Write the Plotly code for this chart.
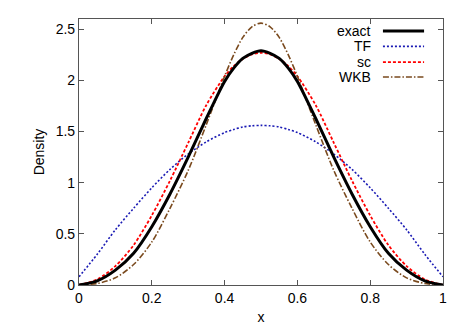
import plotly.graph_objects as go

x_vals = [0.0, 0.05, 0.1, 0.15, 0.2, 0.25, 0.3, 0.35, 0.4, 0.425, 0.45, 0.475, 0.5,
          0.525, 0.55, 0.575, 0.6, 0.65, 0.7, 0.75, 0.8, 0.85, 0.9, 0.95, 1.0]

exact = [0.0, 0.04, 0.145, 0.31, 0.57, 0.89, 1.25, 1.63, 1.99, 2.12, 2.215, 2.265, 2.29,
         2.265, 2.215, 2.12, 1.99, 1.63, 1.25, 0.89, 0.57, 0.31, 0.145, 0.04, 0.0]
tf = [0.08, 0.30, 0.54, 0.75, 0.95, 1.13, 1.28, 1.40, 1.49, 1.52, 1.545, 1.556, 1.56,
      1.556, 1.545, 1.52, 1.49, 1.40, 1.28, 1.13, 0.95, 0.75, 0.54, 0.30, 0.08]
sc = [0.0, 0.055, 0.185, 0.39, 0.68, 1.02, 1.39, 1.76, 2.04, 2.14, 2.21, 2.255, 2.27,
      2.255, 2.21, 2.14, 2.04, 1.76, 1.39, 1.02, 0.68, 0.39, 0.185, 0.055, 0.0]
wkb = [0.0, 0.015, 0.07, 0.2, 0.42, 0.75, 1.12, 1.57, 2.04, 2.25, 2.42, 2.524, 2.56,
       2.524, 2.42, 2.25, 2.04, 1.57, 1.12, 0.75, 0.42, 0.2, 0.07, 0.015, 0.0]

names = ["exact", "TF", "sc", "WKB"]
series = [exact, tf, sc, wkb]
colors = ["#000000", "#1a1ab4", "#ff0000", "#7a4a1e"]
widths = [3, 1.6, 1.8, 1.6]
dashes = ["solid", "2px,2px", "3px,2px", "6px,2px,1.5px,2px"]

x_ticks = [0, 0.2, 0.4, 0.6, 0.8, 1]
x_tick_text = ["0", "0.2", "0.4", "0.6", "0.8", "1"]
y_ticks = [0, 0.5, 1, 1.5, 2, 2.5]
y_tick_text = ["0", "0.5", "1", "1.5", "2", "2.5"]

FONT = "Liberation Sans, Arial, sans-serif"

fig = go.Figure()
draw_order = [1, 2, 3, 0]
for i in draw_order:
    fig.add_trace(go.Scatter(
        x=x_vals, y=series[i], mode="lines", name=names[i],
        line=dict(color=colors[i], width=widths[i], dash=dashes[i],
                  shape="spline", smoothing=0.8),
        showlegend=False, cliponaxis=True))

# manual gnuplot-style legend (text right, sample to the right)
leg_y = [0.955, 0.897, 0.838, 0.782]
for i in range(4):
    fig.add_annotation(x=0.808, y=leg_y[i], xref="paper", yref="paper",
                       text=names[i], showarrow=False, xanchor="right",
                       yanchor="middle",
                       font=dict(family=FONT, size=14, color="black"))
    fig.add_shape(type="line", xref="paper", yref="paper",
                  x0=0.835, x1=0.948, y0=leg_y[i], y1=leg_y[i],
                  line=dict(color=colors[i], width=widths[i], dash=dashes[i]))

axis_common = dict(showline=True, linecolor="#555555", linewidth=1.2,
                   mirror="allticks", ticks="inside", ticklen=5,
                   tickcolor="#555555", tickwidth=1, showgrid=False,
                   zeroline=False,
                   tickfont=dict(family=FONT, size=14, color="black"))

fig.update_xaxes(range=[0, 1], tickvals=x_ticks, ticktext=x_tick_text,
                 title=dict(text="x", font=dict(family=FONT, size=14, color="black"),
                            standoff=7),
                 **axis_common)
fig.update_yaxes(range=[0, 2.6], tickvals=y_ticks, ticktext=y_tick_text,
                 title=dict(text="Density", font=dict(family=FONT, size=14, color="black"),
                            standoff=7),
                 **axis_common)

fig.update_layout(width=467, height=327,
                  margin=dict(l=79, r=24, t=19, b=42, autoexpand=False),
                  paper_bgcolor="white", plot_bgcolor="white",
                  showlegend=False)

fig.write_html("out.html", config={"displayModeBar": False},
               post_script="document.body.style.margin='0';document.body.style.padding='0';")
